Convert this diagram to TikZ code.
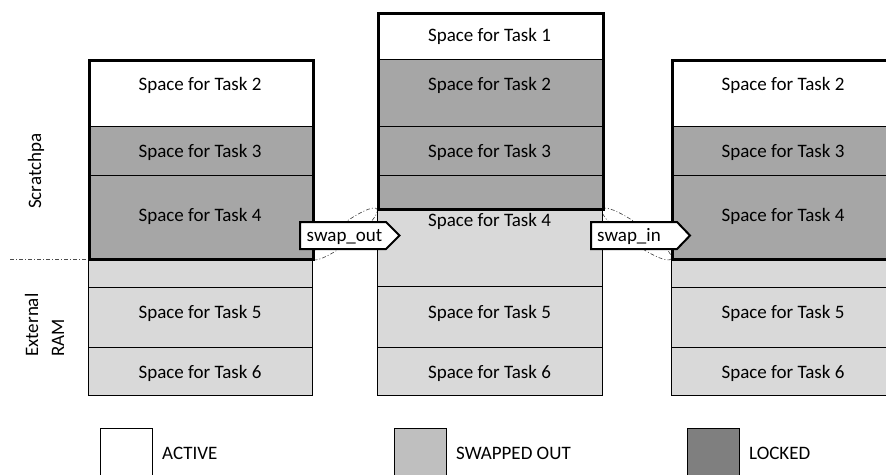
\documentclass[tikz,border=0pt]{standalone}
\usepackage{fontspec}
\setmainfont{Carlito}
\definecolor{lockgray}{HTML}{A6A6A6}
\definecolor{swapgray}{HTML}{D9D9D9}
\definecolor{leglight}{HTML}{BFBFBF}
\definecolor{legdark}{HTML}{7F7F7F}
\begin{document}
\begin{tikzpicture}[x=1pt,y=-1pt,
  cell/.style={draw=black, line width=1.4pt, anchor=north west, inner sep=0pt},
  act/.style={fill=white}, lck/.style={fill=lockgray}, swp/.style={fill=swapgray},
  frame/.style={draw=black, line width=3pt, anchor=north west, inner sep=0pt},
  txt/.style={anchor=base, inner sep=0pt, font=\fontsize{19}{22}\selectfont},
  ltxt/.style={anchor=base west, inner sep=0pt, font=\fontsize{19}{22}\selectfont},
  rot/.style={rotate=90, anchor=base west, inner sep=0pt, font=\fontsize{19}{22}\selectfont},
  tag/.style={draw=black, line width=2pt, fill=white, line join=miter},
  lasso/.style={draw=black!75, line width=0.6pt, dash pattern=on 4pt off 2pt on 1pt off 2pt},
  legbox/.style={draw=black, line width=1.4pt, anchor=north west, minimum width=52pt, minimum height=60pt, inner sep=0pt},
]
\useasboundingbox (0,0) rectangle (886,474);
\clip (0,0) rectangle (886,474);

% lassos behind everything
\draw[lasso, shift={(344.5,234)}, rotate=37.6] (0,0) ellipse [x radius=41, y radius=9];
\draw[lasso, shift={(636.5,234)}, rotate=-35.9] (0,0) ellipse [x radius=42.6, y radius=9];

% left column
\node[cell,act,minimum width=224pt,minimum height=67pt] (L2) at (88,59) {};
\node[cell,lck,minimum width=224pt,minimum height=49pt] (L3) at (88,126) {};
\node[cell,lck,minimum width=224pt,minimum height=83pt] (L4) at (88,175) {};
\node[cell,swp,minimum width=224pt,minimum height=29pt] (Lg) at (88,258) {};
\node[cell,swp,minimum width=224pt,minimum height=60pt] (L5) at (88,287) {};
\node[cell,swp,minimum width=224pt,minimum height=48pt] (L6) at (88,347) {};
\node[frame,minimum width=224pt,minimum height=199pt] (Lf) at (88,59) {};

% middle column
\node[cell,act,minimum width=225pt,minimum height=47pt] (M1) at (377,12) {};
\node[cell,lck,minimum width=225pt,minimum height=67pt] (M2) at (377,59) {};
\node[cell,lck,minimum width=225pt,minimum height=49pt] (M3) at (377,126) {};
\node[cell,lck,minimum width=225pt,minimum height=33pt] (Ms) at (377,175) {};
\node[cell,swp,minimum width=225pt,minimum height=78pt] (M4) at (377,208) {};
\node[cell,swp,minimum width=225pt,minimum height=61pt] (M5) at (377,286) {};
\node[cell,swp,minimum width=225pt,minimum height=48pt] (M6) at (377,347) {};
\node[frame,minimum width=225pt,minimum height=196pt] (Mf) at (377,12) {};

% right column
\node[cell,act,minimum width=224pt,minimum height=67pt] (R2) at (671,59) {};
\node[cell,lck,minimum width=224pt,minimum height=49pt] (R3) at (671,126) {};
\node[cell,lck,minimum width=224pt,minimum height=83pt] (R4) at (671,175) {};
\node[cell,swp,minimum width=224pt,minimum height=29pt] (Rg) at (671,258) {};
\node[cell,swp,minimum width=224pt,minimum height=60pt] (R5) at (671,287) {};
\node[cell,swp,minimum width=224pt,minimum height=48pt] (R6) at (671,347) {};
\node[frame,minimum width=224pt,minimum height=199pt] (Rf) at (671,59) {};

% texts left
\node[txt] (tL2) at (200,90.5) {Space for Task 2};
\node[txt] (tL3) at (200,157.3) {Space for Task 3};
\node[txt] (tL4) at (200,221.5) {Space for Task 4};
\node[txt] (tL5) at (200,318.3) {Space for Task 5};
\node[txt] (tL6) at (200,378.3) {Space for Task 6};
% texts middle
\node[txt] (tM1) at (489.5,41.7) {Space for Task 1};
\node[txt] (tM2) at (489.5,90.7) {Space for Task 2};
\node[txt] (tM3) at (489.5,157.3) {Space for Task 3};
\node[txt] (tM4) at (489.5,226) {Space for Task 4};
\node[txt] (tM5) at (489.5,318.3) {Space for Task 5};
\node[txt] (tM6) at (489.5,378.3) {Space for Task 6};
% texts right
\node[txt] (tR2) at (783,90.5) {Space for Task 2};
\node[txt] (tR3) at (783,157.3) {Space for Task 3};
\node[txt] (tR4) at (783,221.5) {Space for Task 4};
\node[txt] (tR5) at (783,318.3) {Space for Task 5};
\node[txt] (tR6) at (783,378.3) {Space for Task 6};

% swap tags
\draw[tag] (300,222) -- (386,222) -- (399.5,235.5) -- (386,249) -- (300,249) -- cycle;
\node[ltxt] (sout) at (306.5,241.5) {swap\_out};
\draw[tag] (591,222) -- (677,222) -- (690,235.5) -- (677,249) -- (591,249) -- cycle;
\node[ltxt] (sin) at (597,241.5) {swap\_in};

% boundary line
\draw[lasso, draw=black!70, line width=0.7pt] (10,259) -- (88,259);

% side labels
\node[rot] (scr) at (41,209) {Scratchpa};
\node[rot] (ext) at (38,357) {External};
\node[rot] (ram) at (64,357) {RAM};

% legend
\node[legbox, fill=white] (legA) at (99.5,427.5) {};
\node[ltxt] (tA) at (162,459) {ACTIVE};
\node[legbox, fill=leglight] (legS) at (394,427.5) {};
\node[ltxt] (tS) at (456,459) {SWAPPED OUT};
\node[legbox, fill=legdark] (legL) at (687,427.5) {};
\node[ltxt] (tLk) at (749,459) {LOCKED};
\end{tikzpicture}
\end{document}
